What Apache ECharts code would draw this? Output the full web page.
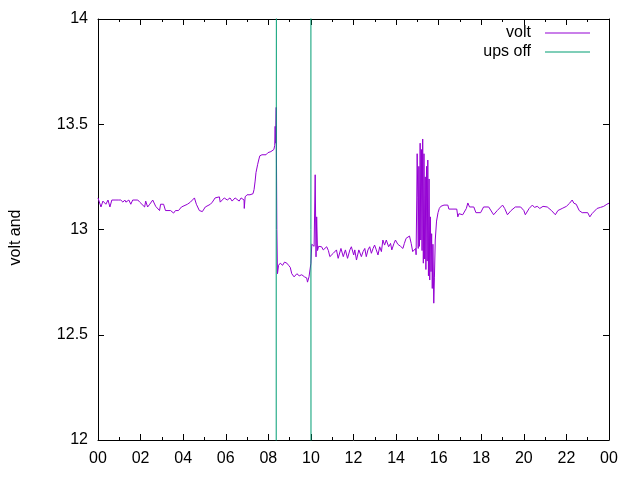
<!DOCTYPE html>
<html lang="en">
<head>
<meta charset="UTF-8">
<title>volt</title>
<script src="https://cdn.jsdelivr.net/npm/echarts@6/dist/echarts.min.js"></script>
<style>
    html, body { margin: 0; padding: 0; background: #fff; }
    #main { width: 640px; height: 480px; }
</style>
</head>
<body>
<div id="main"></div>
<script>
// time of day in hours, battery voltage
var hours = [
    0.00, 0.14, 0.23, 0.37, 0.47, 0.56, 0.65, 0.80, 0.95, 1.07,
    1.17, 1.26, 1.31, 1.45, 1.54, 1.63, 1.87, 1.96, 2.05, 2.19,
    2.24, 2.33, 2.43, 2.57, 2.71, 2.80, 2.89, 2.94, 3.08, 3.17,
    3.41, 3.55, 3.64, 3.78, 3.92, 4.20, 4.34, 4.53, 4.62, 4.76,
    4.90, 5.04, 5.28, 5.37, 5.46, 5.50, 5.70, 5.74, 5.93, 6.07,
    6.20, 6.30, 6.44, 6.63, 6.72, 6.86, 6.87, 6.91, 7.00, 7.14,
    7.28, 7.33, 7.38, 7.42, 7.50, 7.56, 7.60, 7.70, 7.89, 7.98,
    8.12, 8.26, 8.30, 8.32, 8.34, 8.37, 8.40, 8.43, 8.48, 8.56,
    8.67, 8.76, 8.87, 8.95, 9.03, 9.10, 9.21, 9.34, 9.45, 9.57,
    9.70, 9.80, 9.84, 9.91, 9.99, 10.00, 10.04, 10.10, 10.15, 10.20,
    10.24, 10.27, 10.31, 10.36, 10.50, 10.58, 10.66, 10.74, 10.82, 10.89,
    11.05, 11.20, 11.28, 11.41, 11.52, 11.62, 11.72, 11.83, 11.90, 12.01,
    12.06, 12.14, 12.25, 12.37, 12.45, 12.53, 12.60, 12.68, 12.76, 12.84,
    12.92, 12.99, 13.07, 13.15, 13.23, 13.31, 13.38, 13.46, 13.54, 13.65,
    13.74, 13.80, 13.90, 13.97, 14.08, 14.21, 14.32, 14.39, 14.47, 14.55,
    14.63, 14.71, 14.78, 14.86, 14.92, 14.94, 14.97, 14.99, 15.02, 15.04,
    15.07, 15.10, 15.13, 15.16, 15.19, 15.22, 15.25, 15.28, 15.31, 15.34,
    15.37, 15.40, 15.43, 15.46, 15.49, 15.52, 15.55, 15.58, 15.61, 15.64,
    15.67, 15.70, 15.73, 15.77, 15.80, 15.84, 15.90, 15.97, 16.03, 16.10,
    16.25, 16.43, 16.48, 16.85, 16.90, 16.95, 17.13, 17.30, 17.37, 17.45,
    17.65, 17.75, 17.97, 18.11, 18.35, 18.44, 18.58, 18.75, 19.00, 19.10,
    19.23, 19.40, 19.60, 19.85, 20.00, 20.07, 20.25, 20.40, 20.50, 20.63,
    20.75, 20.90, 21.10, 21.30, 21.48, 21.60, 21.80, 22.00, 22.15, 22.27,
    22.35, 22.46, 22.60, 22.74, 23.00, 23.10, 23.20, 23.44, 23.60, 23.75,
    23.90, 24.00
];
var volt = [
    13.150, 13.107, 13.135, 13.120, 13.140, 13.107, 13.140, 13.140, 13.140, 13.140,
    13.130, 13.140, 13.130, 13.140, 13.120, 13.140, 13.140, 13.130, 13.135, 13.107,
    13.135, 13.107, 13.120, 13.140, 13.110, 13.110, 13.090, 13.120, 13.120, 13.090,
    13.090, 13.078, 13.090, 13.090, 13.107, 13.120, 13.130, 13.150, 13.120, 13.090,
    13.085, 13.107, 13.120, 13.130, 13.130, 13.150, 13.155, 13.130, 13.150, 13.140,
    13.150, 13.135, 13.150, 13.135, 13.150, 13.140, 13.100, 13.155, 13.165, 13.165,
    13.170, 13.190, 13.230, 13.270, 13.310, 13.335, 13.350, 13.355, 13.355, 13.365,
    13.370, 13.380, 13.400, 13.490, 13.410, 13.580, 13.000, 12.790, 12.830, 12.840,
    12.830, 12.845, 12.840, 12.830, 12.820, 12.790, 12.775, 12.790, 12.780, 12.785,
    12.775, 12.770, 12.750, 12.775, 12.770, 12.840, 12.930, 12.935, 12.920, 13.260,
    12.870, 13.060, 12.900, 12.920, 12.918, 12.903, 12.910, 12.918, 12.900, 12.871,
    12.887, 12.903, 12.863, 12.910, 12.871, 12.903, 12.863, 12.903, 12.918, 12.879,
    12.903, 12.855, 12.903, 12.871, 12.895, 12.910, 12.871, 12.903, 12.918, 12.887,
    12.910, 12.926, 12.903, 12.879, 12.918, 12.895, 12.950, 12.926, 12.950, 12.918,
    12.934, 12.903, 12.934, 12.950, 12.930, 12.920, 12.910, 12.934, 12.958, 12.950,
    12.969, 12.934, 12.895, 12.887, 12.910, 12.880, 13.140, 13.360, 13.150, 12.910,
    13.300, 12.920, 13.410, 12.950, 13.380, 12.900, 13.430, 12.840, 13.360, 12.860,
    13.250, 12.810, 13.300, 12.850, 13.330, 12.780, 13.240, 12.760, 13.060, 12.800,
    12.980, 12.720, 12.930, 12.650, 12.770, 12.950, 13.040, 13.080, 13.100, 13.110,
    13.116, 13.116, 13.097, 13.097, 13.060, 13.075, 13.070, 13.100, 13.126, 13.107,
    13.107, 13.080, 13.080, 13.107, 13.107, 13.100, 13.070, 13.090, 13.116, 13.100,
    13.070, 13.090, 13.107, 13.107, 13.090, 13.070, 13.100, 13.116, 13.105, 13.110,
    13.100, 13.110, 13.107, 13.090, 13.070, 13.090, 13.100, 13.110, 13.125, 13.140,
    13.125, 13.120, 13.090, 13.080, 13.080, 13.060, 13.075, 13.100, 13.105, 13.110,
    13.120, 13.125
];
// ups off flag, drawn far outside the y range except while it switches
var upsHours = [0, 8.37, 8.37, 8.42, 8.42, 10.0, 10.0, 10.05, 10.05, 24];
var upsOff = [0, 0, 13, 13, 20, 20, 13, 13, 0, 0];

var yTicks = ['12', '12.5', '13', '13.5', '14'];

function hourLabel(v)
{
    var h = v % 24;
    return (h < 10 ? '0' : '') + h;
}

function pairs(xs, ys)
{
    return xs.map(function (x, i) { return [x, ys[i]]; });
}

var font = 'Liberation Sans';

function xAxisDef(pos, labels)
{
    return {
        type: 'value', position: pos, min: 0, max: 24, interval: 2,
        axisLine: { show: true, onZero: false, lineStyle: { color: '#000', width: 1 } },
        axisTick: { show: true, inside: true, length: 6, lineStyle: { color: '#000' } },
        minorTick: { show: true, splitNumber: 2, length: 3, lineStyle: { color: '#000' } },
        splitLine: { show: false },
        axisLabel: { show: labels, formatter: hourLabel, color: '#000', fontSize: 16, fontFamily: font, margin: 11 }
    };
}

function yAxisDef(pos, labels)
{
    var ax = {
        type: 'value', position: pos, min: 12, max: 14, interval: 0.5,
        axisLine: { show: true, onZero: false, lineStyle: { color: '#000', width: 1 } },
        axisTick: { show: true, inside: true, length: 6, lineStyle: { color: '#000' } },
        splitLine: { show: false },
        axisLabel: {
            show: labels, color: '#000', fontSize: 16, fontFamily: font, margin: 10,
            formatter: function (v) { return yTicks[Math.round((v - 12) / 0.5)]; }
        }
    };
    if (labels) {
        ax.name = 'volt and';
        ax.nameLocation = 'middle';
        ax.nameGap = 74;
        // pushes the rotated name a bit lower, like the gnuplot ylabel
        ax.nameTextStyle = { color: '#000', fontSize: 16, fontFamily: font, padding: [0, 16, 0, 0] };
    }
    return ax;
}

// one legend per entry so the samples line up on the right
function legendDef(name, top)
{
    return {
        data: [name], right: 50, top: top, padding: 0, orient: 'vertical',
        align: 'right', icon: 'rect', itemWidth: 45, itemHeight: 1, selectedMode: false,
        textStyle: { color: '#000', fontSize: 16, fontFamily: font, padding: [0, 9, 0, 0] }
    };
}

var myChart = echarts.init(document.getElementById('main'));

var option = {
    animation: false,
    backgroundColor: '#fff',
    textStyle: { fontFamily: font },
    grid: { left: 95, right: 31, top: 19, bottom: 40, containLabel: false },
    legend: [ legendDef('volt', 25), legendDef('ups off', 44) ],
    xAxis: [ xAxisDef('bottom', true), xAxisDef('top', false) ],
    yAxis: [ yAxisDef('left', true), yAxisDef('right', false) ],
    series: [{
        name: 'volt',
        type: 'line',
        data: pairs(hours, volt),
        symbol: 'none',
        clip: true,
        lineStyle: { color: '#9400d3', width: 1 },
        itemStyle: { color: '#9400d3' }
    },
    {
        name: 'ups off',
        type: 'line',
        data: pairs(upsHours, upsOff),
        symbol: 'none',
        clip: true,
        lineStyle: { color: '#009e73', width: 1 },
        itemStyle: { color: '#009e73' }
    }]
};

myChart.setOption(option);
</script>
</body>
</html>
